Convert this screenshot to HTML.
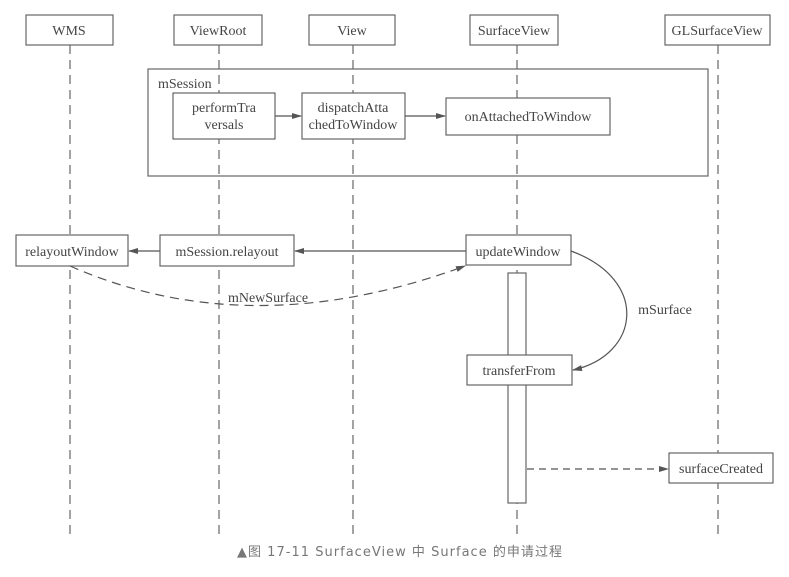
<!DOCTYPE html>
<html><head><meta charset="utf-8"><style>
html,body{margin:0;padding:0;background:#fff;width:789px;height:577px;overflow:hidden}
svg{display:block}
text{font-family:"Liberation Serif",serif;font-size:14px;fill:#444}
</style></head><body>
<svg width="789" height="577" viewBox="0 0 789 577">
<defs>
<marker id="a" markerWidth="10" markerHeight="8" refX="9" refY="4" orient="auto" markerUnits="userSpaceOnUse"><path d="M0,1 L10,4 L0,7 Z" fill="#555"/></marker>
</defs>
<g stroke="#666" stroke-width="1.2" fill="none">
<g stroke-dasharray="9,6">
<line x1="70" y1="45" x2="70" y2="535"/>
<line x1="219" y1="45" x2="219" y2="535"/>
<line x1="353" y1="45" x2="353" y2="535"/>
<line x1="517" y1="45" x2="517" y2="535"/>
<line x1="718" y1="45" x2="718" y2="535"/>
</g>
</g>
<g stroke="#666" stroke-width="1.2" fill="#fff">
<rect x="26" y="15" width="87" height="30"/>
<rect x="174" y="15" width="88" height="30"/>
<rect x="309" y="15" width="86" height="30"/>
<rect x="470" y="15" width="88" height="30"/>
<rect x="665" y="15" width="105" height="30"/>
<rect x="148" y="69" width="560" height="107" fill="none"/>
<rect x="173" y="93" width="102" height="46"/>
<rect x="302" y="93" width="103" height="46"/>
<rect x="446" y="98" width="164" height="37"/>
<rect x="16" y="235" width="112" height="31"/>
<rect x="160" y="235" width="134" height="31"/>
<rect x="508" y="273" width="18" height="230"/>
<rect x="466" y="235" width="105" height="30"/>
<rect x="467" y="355" width="105" height="30"/>
<rect x="669" y="453" width="104" height="30"/>
</g>
<g stroke="#555" stroke-width="1.2" fill="none">
<line x1="275" y1="116" x2="301" y2="116" marker-end="url(#a)"/>
<line x1="405" y1="116" x2="445" y2="116" marker-end="url(#a)"/>
<line x1="466" y1="251" x2="295" y2="251" marker-end="url(#a)"/>
<line x1="160" y1="251" x2="129" y2="251" marker-end="url(#a)"/>
<path d="M70,266 Q250,345 465,266" stroke-dasharray="9,6" marker-end="url(#a)"/>
<path d="M571,251 C650,280 640,355 573,370" marker-end="url(#a)"/>
<line x1="527" y1="469" x2="668" y2="469" stroke-dasharray="7,5" marker-end="url(#a)"/>
</g>
<g text-anchor="middle">
<text x="69" y="35">WMS</text>
<text x="218" y="35">ViewRoot</text>
<text x="352" y="35">View</text>
<text x="514" y="35">SurfaceView</text>
<text x="717" y="35">GLSurfaceView</text>
<text x="224" y="112">performTra</text>
<text x="224" y="129">versals</text>
<text x="353" y="112">dispatchAtta</text>
<text x="353" y="129">chedToWindow</text>
<text x="528" y="121">onAttachedToWindow</text>
<text x="72" y="256">relayoutWindow</text>
<text x="227" y="256">mSession.relayout</text>
<text x="518" y="256">updateWindow</text>
<text x="519" y="375">transferFrom</text>
<text x="721" y="473">surfaceCreated</text>
<text x="268" y="302">mNewSurface</text>
<text x="665" y="314">mSurface</text>
</g>
<text x="158" y="88">mSession</text>
<text x="237" y="556" textLength="325" lengthAdjust="spacing" style="font-family:'DejaVu Sans','Noto Sans CJK SC',sans-serif;font-size:13px;fill:#777">▲图 17-11  SurfaceView 中 Surface 的申请过程</text>
</svg>
</body></html>
